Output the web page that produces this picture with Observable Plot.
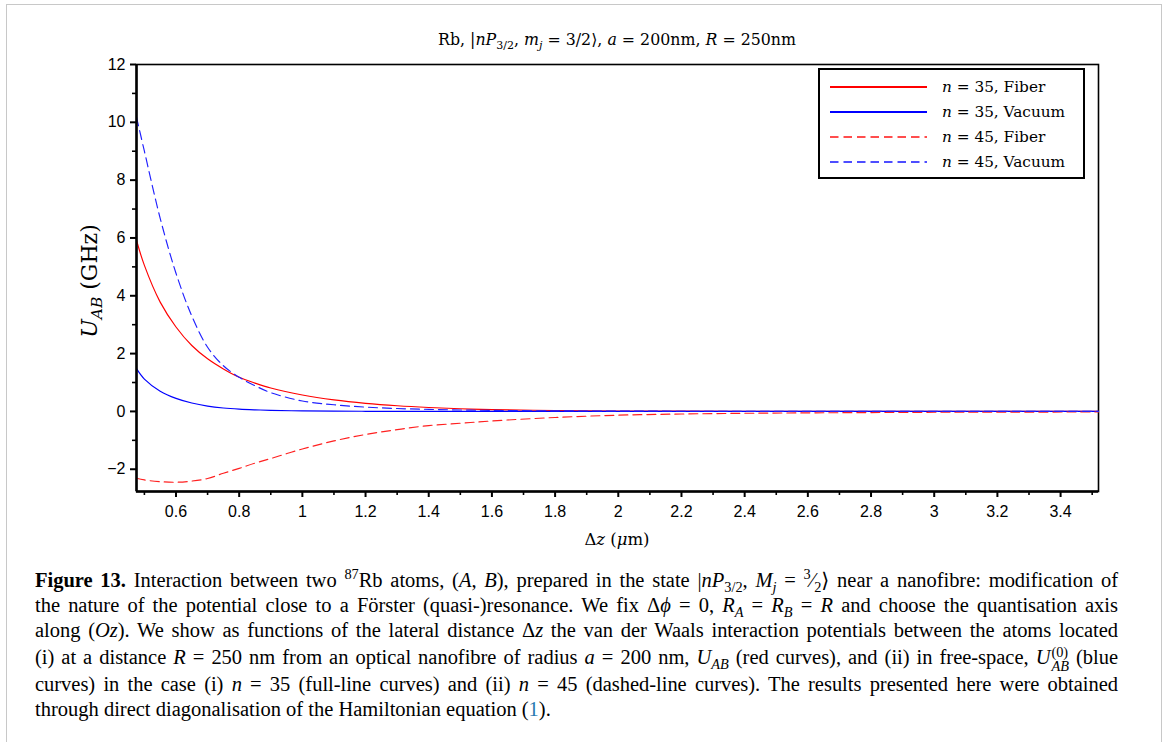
<!DOCTYPE html>
<html>
<head>
<meta charset="utf-8">
<script src="https://cdn.jsdelivr.net/npm/d3@7"></script>
<script src="https://cdn.jsdelivr.net/npm/@observablehq/plot@0.6"></script>
<style>
  html, body { margin: 0; padding: 0; background: #fff; }
  body { width: 1165px; height: 742px; position: relative; overflow: hidden; }
  #frame { position: absolute; left: 6px; top: 4px; width: 1156px; height: 760px; border: 1.5px solid #c8c8c8; box-sizing: border-box; }
  #chart { position: absolute; left: 0; top: 0; }
  .serif { font-family: "Liberation Serif", "DejaVu Serif", serif; color: #000; }
  .math { font-family: "DejaVu Serif", serif; color: #000; }
  #title { position: absolute; left: 0; width: 1234px; top: 30px; text-align: center; font-size: 15.8px; white-space: nowrap; }
  #ylabel { position: absolute; left: 89px; top: 281px; transform: translate(-50%, -50%) rotate(-90deg); font-size: 22px; white-space: nowrap; }
  #xlabel { position: absolute; left: 0; width: 1234px; top: 530px; text-align: center; font-size: 16.5px; white-space: nowrap; }
  #legend { position: absolute; left: 818px; top: 68px; width: 267px; height: 111px; border: 2px solid #000; box-sizing: border-box; background: #fff; }
  .lg { position: absolute; left: 10px; height: 20px; display: flex; align-items: center; font-size: 15.3px; white-space: nowrap; }
  .lg svg { margin-right: 15px; }
  .cap { position: absolute; left: 35px; width: 1083px; font-size: 20.5px; line-height: 24px; height: 24px; text-align: justify; text-align-last: justify; white-space: nowrap; }
  .cap.last { text-align-last: left; }
  sub, sup { font-size: 70%; line-height: 0; }
  .stack { display: inline-flex; flex-direction: column; vertical-align: middle; font-size: 70%; line-height: 1; margin-left: 1px; }
  i { font-style: italic; }
</style>
</head>
<body>
<div id="frame"></div>
<div id="chart"></div>
<div id="title" class="math">Rb, |<i>nP</i><sub>3/2</sub>, <i>m<sub>j</sub></i> = 3/2⟩, <i>a</i> = 200nm, <i>R</i> = 250nm</div>
<div id="ylabel" class="math"><i>U<sub>AB</sub></i> (GHz)</div>
<div id="xlabel" class="math">Δ<i>z</i> (<i>μ</i>m)</div>
<div id="legend" class="math"></div>
<div class="serif">
  <div class="cap" style="top:568px"><span><b>Figure 13.</b> Interaction between two <sup>87</sup>Rb atoms, (<i>A</i>, <i>B</i>), prepared in the state |<i>nP</i><sub>3/2</sub>, <i>M<sub>j</sub></i> = <sup>3</sup>⁄<sub>2</sub>⟩ near a nanofibre: modification of</span></div>
  <div class="cap" style="top:593px"><span>the nature of the potential close to a Förster (quasi-)resonance. We fix Δ<i>ϕ</i> = 0, <i>R<sub>A</sub></i> = <i>R<sub>B</sub></i> = <i>R</i> and choose the quantisation axis</span></div>
  <div class="cap" style="top:618px"><span>along (<i>Oz</i>). We show as functions of the lateral distance Δ<i>z</i> the van der Waals interaction potentials between the atoms located</span></div>
  <div class="cap" style="top:645px"><span>(i) at a distance <i>R</i> = 250 nm from an optical nanofibre of radius <i>a</i> = 200 nm, <i>U<sub>AB</sub></i> (red curves), and (ii) in free-space, <i>U</i><span class="stack"><span>(0)</span><i>AB</i></span> (blue</span></div>
  <div class="cap" style="top:672px"><span>curves) in the case (i) <i>n</i> = 35 (full-line curves) and (ii) <i>n</i> = 45 (dashed-line curves). The results presented here were obtained</span></div>
  <div class="cap last" style="top:697px"><span>through direct diagonalisation of the Hamiltonian equation (<span style="color:#2a7ab0">1</span>).</span></div>
</div>
<script>
// lateral distance Δz (μm)
const dz = [0.475, 0.5, 0.55, 0.6, 0.65, 0.7, 0.75, 0.8, 0.85, 0.9, 1.0, 1.1, 1.2, 1.3, 1.4, 1.5, 1.6, 1.8, 2.0, 2.2, 2.4, 2.6, 2.8, 3.0, 3.2, 3.52];
// U_AB (GHz)
const n35Fiber   = [5.92, 5.05, 3.78, 2.92, 2.28, 1.82, 1.47, 1.18, 0.98, 0.81, 0.57, 0.40, 0.28, 0.195, 0.135, 0.092, 0.063, 0.031, 0.016, 0.009, 0.005, 0.003, 0.002, 0.001, 0.001, 0];
const n35Vacuum  = [1.48, 1.12, 0.70, 0.45, 0.29, 0.185, 0.12, 0.08, 0.055, 0.037, 0.017, 0.008, 0.004, 0.002, 0.001, 0.001, 0, 0, 0, 0, 0, 0, 0, 0, 0, 0];
const n45Fiber   = [-2.31, -2.37, -2.43, -2.45, -2.41, -2.32, -2.14, -1.97, -1.79, -1.63, -1.30, -1.02, -0.80, -0.63, -0.49, -0.41, -0.33, -0.21, -0.13, -0.09, -0.065, -0.05, -0.04, -0.03, -0.025, -0.02];
const n45Vacuum  = [10.18, 9.0, 6.68, 4.78, 3.30, 2.22, 1.58, 1.18, 0.89, 0.65, 0.36, 0.23, 0.15, 0.10, 0.07, 0.05, 0.035, 0.02, 0.01, 0.007, 0.004, 0.003, 0.002, 0.001, 0.001, 0];
const seriesNames = ["n = 35, Fiber", "n = 35, Vacuum", "n = 45, Fiber", "n = 45, Vacuum"];
const yTicks = [-2, 0, 2, 4, 6, 8, 10, 12];
const yMinor = [-1, 1, 3, 5, 7, 9, 11];
const xTicks = [0.6, 0.8, 1, 1.2, 1.4, 1.6, 1.8, 2, 2.2, 2.4, 2.6, 2.8, 3, 3.2, 3.4];
const xMinor = [0.5, 0.7, 0.9, 1.1, 1.3, 1.5, 1.7, 1.9, 2.1, 2.3, 2.5, 2.7, 2.9, 3.1, 3.3, 3.5];

const xDomain = [0.475, 3.52];
const yDomain = [-2.77, 12];

const styles = [
  {values: n35Fiber, stroke: "#ff0000", dash: null},
  {values: n35Vacuum, stroke: "#0000ff", dash: null},
  {values: n45Fiber, stroke: "#ff2020", dash: "9,5"},
  {values: n45Vacuum, stroke: "#2020ff", dash: "9,5"}
];

const fmt = d => (d < 0 ? "\u2212" + Math.abs(d) : String(d));

const lineMarks = styles.map((s) => Plot.line(
  dz.map((x, j) => ({x, y: s.values[j]})),
  {x: "x", y: "y", stroke: s.stroke, strokeWidth: 1.15, strokeDasharray: s.dash, curve: "catmull-rom"}
));

const chart = Plot.plot({
  width: 1165,
  height: 560,
  marginLeft: 136,
  marginRight: 67,
  marginTop: 64,
  marginBottom: 69,
  x: {domain: xDomain},
  y: {domain: yDomain},
  style: {fontFamily: "'Liberation Sans', Arial, sans-serif", fontSize: "16px", color: "#000", background: "transparent", overflow: "visible"},
  marks: [
    Plot.frame({stroke: "#000", strokeWidth: 1.6}),
    ...lineMarks,
    Plot.ruleX([xDomain[0]], {stroke: "#000", strokeWidth: 2.5}),
    Plot.ruleY([yDomain[0]], {stroke: "#000", strokeWidth: 2.5}),
    Plot.axisY(yTicks, {tickSize: 6, tickPadding: 5, tickFormat: fmt, label: null, strokeWidth: 2, fontSize: 16}),
    Plot.axisY(yMinor, {tickSize: 4, tickFormat: () => "", label: null, strokeWidth: 1.6}),
    Plot.axisX(xTicks, {tickSize: 6, tickPadding: 8, tickFormat: d => String(d), label: null, strokeWidth: 2, fontSize: 16}),
    Plot.axisX(xMinor.filter(v => v <= xDomain[1]), {tickSize: 4, tickFormat: () => "", label: null, strokeWidth: 1.6})
  ]
});
document.getElementById("chart").appendChild(chart);

// legend
const legend = document.getElementById("legend");
styles.forEach((s, i) => {
  const row = document.createElement("div");
  row.className = "lg";
  row.style.top = (7 + i * 25) + "px";
  const parts = seriesNames[i].split(", ");
  const eq = parts[0].replace("n", "<i>n</i>");
  row.innerHTML = `<svg width="97" height="4"><line x1="0" y1="2" x2="97" y2="2" stroke="${s.stroke}" stroke-width="2" ${s.dash ? 'stroke-dasharray="8.5,5" stroke-opacity="0.8"' : ''}/></svg><span>${eq}, ${parts[1]}</span>`;
  legend.appendChild(row);
});

// fit caption lines to the column width
document.querySelectorAll(".cap").forEach(div => {
  const span = div.firstElementChild;
  const w = span.getBoundingClientRect().width;
  const chars = span.textContent.length;
  if (w > 1080) div.style.letterSpacing = (-(w - 1080) / chars).toFixed(3) + "px";
});
</script>
</body>
</html>
